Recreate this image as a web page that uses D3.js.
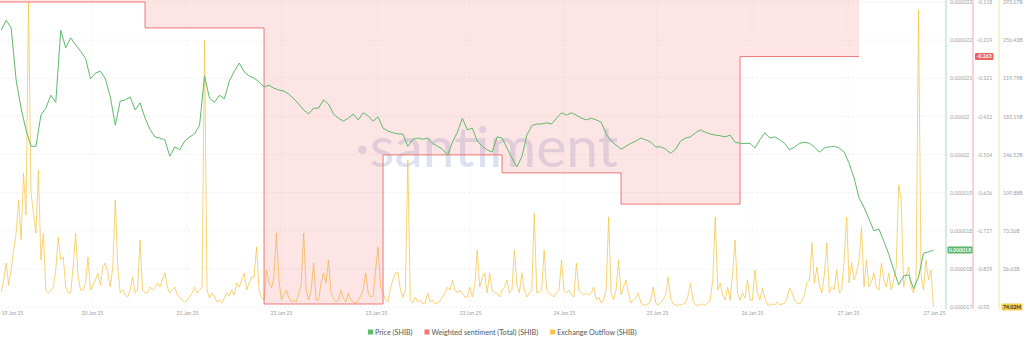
<!DOCTYPE html>
<html><head><meta charset="utf-8">
<script src="https://cdn.jsdelivr.net/npm/d3@7"></script>
<style>body{margin:0;background:#fff}svg{display:block}</style>
</head><body><svg id="c" width="1024" height="344"></svg>
<script>
// ---------- DATA ----------
const priceStart = "2025-01-19T19:00:00Z";   // hourly
const price = [
21.72e-6,21.89e-6,21.76e-6,20.87e-6,20.39e-6,20.02e-6,19.74e-6,19.74e-6,20.27e-6,20.39e-6,
20.61e-6,20.49e-6,21.72e-6,21.42e-6,21.59e-6,21.47e-6,21.36e-6,21.24e-6,20.89e-6,20.99e-6,
21.02e-6,20.89e-6,20.58e-6,20.10e-6,20.51e-6,20.53e-6,20.58e-6,20.36e-6,20.48e-6,20.22e-6,
20.03e-6,19.90e-6,19.88e-6,19.85e-6,19.57e-6,19.73e-6,19.68e-6,19.83e-6,19.90e-6,19.95e-6,
20.10e-6,20.94e-6,20.56e-6,20.49e-6,20.61e-6,20.55e-6,20.85e-6,21.02e-6,21.16e-6,21.01e-6,
20.94e-6,20.90e-6,20.84e-6,20.75e-6,20.78e-6,20.73e-6,20.70e-6,20.68e-6,20.63e-6,20.55e-6,
20.46e-6,20.36e-6,20.29e-6,20.39e-6,20.39e-6,20.53e-6,20.46e-6,20.29e-6,20.22e-6,20.17e-6,
20.22e-6,20.29e-6,20.19e-6,20.31e-6,20.26e-6,20.17e-6,20.24e-6,20.05e-6,20.00e-6,19.97e-6,
19.95e-6,19.95e-6,19.74e-6,19.86e-6,19.88e-6,19.86e-6,19.88e-6,19.79e-6,19.74e-6,19.69e-6,
19.59e-6,19.81e-6,19.98e-6,20.22e-6,20.02e-6,20.05e-6,19.83e-6,19.74e-6,19.68e-6,19.64e-6,
19.90e-6,19.88e-6,19.71e-6,19.54e-6,19.39e-6,19.56e-6,19.93e-6,20.09e-6,20.12e-6,20.12e-6,
20.14e-6,20.12e-6,20.22e-6,20.31e-6,20.27e-6,20.31e-6,20.27e-6,20.22e-6,20.19e-6,20.22e-6,
20.19e-6,20.15e-6,19.95e-6,19.83e-6,19.76e-6,19.69e-6,19.74e-6,19.79e-6,19.83e-6,19.88e-6,
19.85e-6,19.81e-6,19.73e-6,19.73e-6,19.69e-6,19.62e-6,19.69e-6,19.83e-6,19.88e-6,19.90e-6,
19.97e-6,20.02e-6,19.98e-6,19.95e-6,19.93e-6,19.92e-6,19.90e-6,19.93e-6,19.81e-6,19.79e-6,
19.79e-6,19.79e-6,19.71e-6,19.85e-6,19.97e-6,19.88e-6,19.90e-6,19.85e-6,19.79e-6,19.68e-6,
19.73e-6,19.79e-6,19.81e-6,19.79e-6,19.73e-6,19.64e-6,19.71e-6,19.73e-6,19.74e-6,19.71e-6,
19.64e-6,19.45e-6,19.20e-6,18.86e-6,18.70e-6,18.50e-6,18.30e-6,18.33e-6,18.12e-6,17.90e-6,
17.63e-6,17.38e-6,17.53e-6,17.55e-6,17.31e-6,17.51e-6,17.92e-6,17.94e-6,17.97e-6
];
const outflowStart = "2025-01-19T19:00:00Z"; // every 30 minutes
// Exchange outflow, billions of SHIB
const outflowBillions = [
14.4,25.9,42.3,21.1,35.6,54.8,71.1,102.8,64.4,128.8,
88.4,293.07,109.5,90.3,71.1,131.6,45.2,71.1,16.3,13.5,
16.3,19.2,35.6,67.3,45.2,48.0,19.2,13.5,13.5,38.4,
71.1,28.8,16.3,16.3,23.1,48.0,16.3,21.1,25.9,32.7,
21.1,38.4,42.3,32.7,19.2,38.4,102.8,38.4,13.5,16.3,
11.5,9.6,16.3,28.8,13.5,16.3,64.4,16.3,13.5,13.5,
19.2,16.3,18.3,23.1,19.2,25.9,32.7,19.2,13.5,16.3,
19.2,11.5,9.6,6.7,4.8,6.7,9.6,13.5,19.2,13.5,
16.3,19.2,256.6,16.3,8.6,13.5,10.6,4.8,6.7,3.8,
8.6,13.5,10.6,16.3,11.5,23.1,19.2,25.9,32.7,16.3,
23.1,28.8,28.8,57.7,16.3,8.6,6.7,35.6,23.1,18.3,
28.8,71.1,25.9,6.7,11.5,16.3,8.6,4.8,6.7,4.8,
13.5,21.1,71.1,16.3,6.7,16.3,42.3,6.7,
6.7,23.1,32.7,23.1,45.2,13.5,8.6,4.8,6.7,16.3,
8.6,4.8,13.5,6.7,4.8,3.8,6.7,10.6,16.3,32.7,
13.5,9.6,10.6,35.6,57.7,19.2,13.5,6.7,4.8,18.3,
25.9,32.7,33.6,16.3,9.6,16.3,141.3,6.7,3.8,9.6,
4.8,6.7,2.9,3.8,13.5,4.8,6.7,2.9,3.8,5.8,
9.6,13.5,19.2,16.3,25.9,16.3,13.5,16.3,13.5,9.6,
9.6,19.2,9.6,21.1,54.8,19.2,27.9,32.7,13.5,32.7,
16.3,13.5,13.5,9.6,16.3,19.2,25.9,13.5,16.3,54.8,
21.1,13.5,32.7,16.3,9.6,13.5,16.3,90.3,13.5,14.4,
16.3,54.8,16.3,13.5,11.5,9.6,13.5,16.3,45.2,16.3,
13.5,16.3,11.5,9.6,42.3,16.3,13.5,11.5,13.5,11.5,
13.5,19.2,6.7,9.6,3.8,6.7,16.3,86.5,13.5,6.7,
16.3,45.2,11.5,19.2,25.9,13.5,3.8,6.7,8.6,13.5,
3.8,1.9,1.9,2.9,6.7,19.2,3.8,1.9,4.8,6.7,
11.5,28.8,8.6,2.9,1.9,1.9,1.9,2.9,3.8,10.6,
23.1,6.7,1.9,1.9,1.9,2.9,1.9,3.8,6.7,25.9,
86.5,16.3,23.1,11.5,6.7,19.2,6.7,32.7,64.4,13.5,
6.7,13.5,8.6,25.9,6.7,6.7,35.6,13.5,6.7,18.3,
8.6,1.9,1.9,2.9,1.9,4.8,1.9,2.9,3.8,8.6,
18.3,13.5,6.7,3.8,2.9,6.7,11.5,23.1,25.9,61.5,
23.1,38.4,21.1,13.5,30.7,61.5,13.5,19.2,16.3,35.6,
13.5,16.3,45.2,86.5,23.1,42.3,25.9,32.7,45.2,76.9,
19.2,45.2,19.2,24.0,32.7,18.3,16.3,42.3,25.9,19.2,
32.7,16.3,25.9,38.4,117.2,102.8,19.2,30.7,38.4,19.2,
13.5,25.9,285.4,30.7,16.3,45.2,25.9,35.6,0.07402
];
const sentimentDates = ["2025-01-19","2025-01-20","2025-01-21","2025-01-22","2025-01-23","2025-01-24","2025-01-25","2025-01-26","2025-01-27"];
const sentiment = [-0.118,-0.118,-0.187,-0.922,-0.525,-0.573,-0.656,-0.263,-0.263];

const xDomain = ["2025-01-19T18:45:00Z","2025-01-27T16:56:00Z"];
const xTickTimes = ["2025-01-19T21:10:00Z","2025-01-20T13:18:00Z","2025-01-21T08:28:00Z","2025-01-22T03:25:00Z","2025-01-22T22:35:00Z","2025-01-23T17:32:00Z","2025-01-24T12:30:00Z","2025-01-25T07:15:00Z","2025-01-26T02:25:00Z","2025-01-26T21:47:00Z","2025-01-27T15:07:00Z"];
const xTickLabels = ["19 Jan 25","20 Jan 25","21 Jan 25","22 Jan 25","23 Jan 25","23 Jan 25","24 Jan 25","25 Jan 25","26 Jan 25","27 Jan 25","27 Jan 25"];

const priceDomain = [0.0000170, 0.0000222];
const sentDomain = [-0.93, -0.118];
const outflowDomain = [0, 293.07];
const priceTickLabels = ["0.000017","0.000018","0.000018","0.000019","0.00002","0.00002","0.000021","0.000022","0.000022"];
const sentTickLabels = ["-0.93","-0.829","-0.727","-0.626","-0.524","-0.422","-0.321","-0.219","-0.118"];
const outflowTickLabels = ["0","36.63B","73.26B","109.88B","146.52B","183.15B","219.79B","256.43B","293.07B"];
const legendLabels = ["Price (SHIB)","Weighted sentiment (Total) (SHIB)","Exchange Outflow (SHIB)"];

// ---------- STYLE ----------
const C = {green:"#5fba69", red:"#ee7777", yellow:"#f4c548",
  greenAxis:"#a9dcb1", redAxis:"#f2a9a9", yellowAxis:"#f1e3a8",
  fill:"rgba(245,100,100,0.17)"};
const W = 943, TOP = 0, Y0 = 2, Y1 = 307;

const svg = d3.select("#c");
const hour = 3600e3;
const tp = new Date(priceStart).getTime(), to = new Date(outflowStart).getTime();
const priceData = price.map((v,i)=>({t:new Date(tp+i*hour), v}));
const outData = outflowBillions.map((v,i)=>({t:new Date(to+i*hour/2), v}));
const sentData = sentiment.map((v,i)=>({t:new Date(sentimentDates[i]+"T00:00:00Z"), v}));

const x = d3.scaleUtc().domain(xDomain.map(d=>new Date(d))).range([0, W]);
const yP = d3.scaleLinear().domain(priceDomain).range([Y1, Y0]);
const yS = d3.scaleLinear().domain(sentDomain).range([Y1, Y0]);
const yO = d3.scaleLinear().domain(outflowDomain).range([Y1, Y0]);

svg.append("defs").append("clipPath").attr("id","clip")
  .append("rect").attr("x",0).attr("y",TOP).attr("width",W).attr("height",310);

const tickVals = s => d3.range(9).map(i => s.domain()[0] + i*(s.domain()[1]-s.domain()[0])/8);

// grid
const grid = svg.append("g");
grid.selectAll("line.h").data(tickVals(yP)).join("line")
  .attr("x1",0).attr("x2",W+2).attr("y1",d=>yP(d)).attr("y2",d=>yP(d))
  .attr("stroke","#e6e6e6").attr("stroke-width",0.6).attr("stroke-dasharray","2,2");
grid.selectAll("line.v").data(xTickTimes.slice(1,-1)).join("line")
  .attr("x1",d=>x(new Date(d))).attr("x2",d=>x(new Date(d))).attr("y1",TOP).attr("y2",Y1)
  .attr("stroke","#ececec").attr("stroke-width",0.6).attr("stroke-dasharray","2,2");

const plot = svg.append("g").attr("clip-path","url(#clip)");

// watermark
plot.append("text").attr("x",(x.range()[0]+x.range()[1])/2+15).attr("y",167)
  .attr("text-anchor","middle").attr("font-family","Lato, 'Open Sans', sans-serif")
  .attr("font-size",57).attr("fill","#a0a8d8").attr("fill-opacity",0.35).text("·santiment");

// outflow
plot.append("path").datum(outData)
  .attr("d", d3.line().x(d=>x(d.t)).y(d=>yO(d.v)))
  .attr("fill","none").attr("stroke",C.yellow).attr("stroke-width",0.9).attr("stroke-opacity",0.85)
  .attr("stroke-linejoin","round");

// sentiment area + line
plot.append("path").datum(sentData)
  .attr("d", d3.area().curve(d3.curveStepAfter).x(d=>x(d.t)).y0(TOP).y1(d=>yS(d.v)))
  .attr("fill",C.fill);
plot.append("path").datum(sentData)
  .attr("d", d3.line().curve(d3.curveStepAfter).x(d=>x(d.t)).y(d=>yS(d.v)))
  .attr("fill","none").attr("stroke",C.red).attr("stroke-width",1);

// price
plot.append("path").datum(priceData)
  .attr("d", d3.line().x(d=>x(d.t)).y(d=>yP(d.v)))
  .attr("fill","none").attr("stroke",C.green).attr("stroke-width",1).attr("stroke-linejoin","round");

// x axis
const xAxis = d3.axisBottom(x).tickValues(xTickTimes.map(d=>new Date(d)))
  .tickFormat((d,i)=>xTickLabels[i]).tickSize(0).tickPadding(3);
const gx = svg.append("g").attr("transform","translate(0,"+(Y1+1)+")").call(xAxis);
gx.select(".domain").remove();
gx.selectAll("text").attr("font-family","Lato, sans-serif").attr("font-size",5.2).attr("fill","#a0a0a0");

// right axes
function rightAxis(scale, labels, xpos, lineColor, skipFirst){
  const vals = tickVals(scale), idx = vals.map((v,i)=>i).filter(i=>!(skipFirst && i===0));
  const ax = d3.axisRight(scale).tickValues(idx.map(i=>vals[i])).tickFormat((d,j)=>labels[idx[j]]).tickSize(0).tickPadding(4);
  const g = svg.append("g").attr("transform","translate("+xpos+",0)").call(ax);
  g.select(".domain").remove();
  g.selectAll("text").attr("font-family","Lato, sans-serif").attr("font-size",5.2).attr("fill","#a0a0a0");
  svg.append("line").attr("x1",xpos).attr("x2",xpos).attr("y1",TOP).attr("y2",Y1+2)
    .attr("stroke",lineColor).attr("stroke-width",1);
  return g;
}
rightAxis(yP, priceTickLabels, 946, C.greenAxis, false);
rightAxis(yS, sentTickLabels, 973, C.redAxis, false);
// bottom "0" label of the outflow axis sits under the last-value badge
rightAxis(yO, outflowTickLabels, 999, C.yellowAxis, true);

// last-value badges
function badge(xpos, w, yv, txt, bg, fg){
  const g = svg.append("g");
  g.append("rect").attr("x",xpos).attr("y",yv-3.5).attr("width",w).attr("height",7).attr("rx",1).attr("fill",bg);
  g.append("text").attr("x",xpos+w/2).attr("y",yv).attr("dy","0.35em").attr("text-anchor","middle")
    .attr("font-family","Lato, sans-serif").attr("font-size",5.2).attr("font-weight",700).attr("fill",fg).text(txt);
}
const lp = price[price.length-1], ls = sentiment[sentiment.length-1], lo = outflowBillions[outflowBillions.length-1];
badge(947.5, 25, yP(lp), lp.toFixed(6), "#58b464", "#fff");
badge(975, 18.5, yS(ls), ls.toFixed(3), "#e86262", "#fff");
badge(1001.5, 21, Math.min(yO(lo), Y1), (lo*1000).toFixed(2)+"M", "#f6cf4e", "#333");

// legend
const leg = svg.append("g").attr("transform","translate(368,332)");
const legColors = [C.green, C.red, C.yellow];
let lx = 0;
legendLabels.forEach((lab,i)=>{
  leg.append("rect").attr("x",lx).attr("y",-2.5).attr("width",5).attr("height",5).attr("fill",legColors[i]);
  const t = leg.append("text").attr("x",lx+7).attr("y",0).attr("dy","0.35em")
    .attr("font-family","Lato, sans-serif").attr("font-size",7.2).attr("fill","#555").text(lab);
  lx += 7 + t.node().getComputedTextLength() + 12;
});
</script></body></html>
